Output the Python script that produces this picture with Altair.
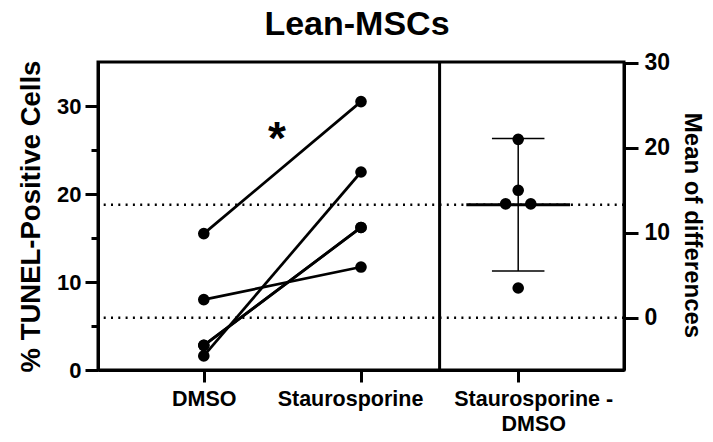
import json
import altair as alt
import pandas as pd

# ---- data ----
chart_title = "Lean-MSCs"
groups = ["DMSO", "Staurosporine"]
dmso = [15.5, 8.0, 2.8, 2.8, 1.6]
stauro = [30.5, 11.7, 16.2, 16.2, 22.5]
diffs = [21.0, 15.0, 13.4, 13.4, 3.5]
mean_diff = 13.3
ci_low, ci_high = 5.5, 21.1
x_tick_lines = [["DMSO"], ["Staurosporine"], ["Staurosporine -", "DMSO"]]
left_ticks = [0, 5, 10, 15, 20, 25, 30]
right_ticks = [0, 10, 20, 30]
left_title = "% TUNEL-Positive Cells"
right_title = "Mean of differences"
star = "*"

FONT = "Liberation Sans"
W, H = 526, 308

# ---- tables ----
paired = pd.DataFrame(
    [{"pair": i, "x": gi, "value": v}
     for i in range(len(dmso))
     for gi, v in enumerate([dmso[i], stauro[i]])]
)

# spread duplicated differences sideways (swarm)
diff_x = []
for i, d in enumerate(diffs):
    same = [j for j, e in enumerate(diffs) if e == d]
    k = same.index(i)
    n = len(same)
    diff_x.append(2 + 0.16 * (k - (n - 1) / 2))
diff_df = pd.DataFrame({"x": diff_x, "diff": diffs})

mean_df = pd.DataFrame({"x": [2 - 0.33], "x2": [2 + 0.33], "diff": [mean_diff]})
err_df = pd.DataFrame({"x": [2], "diff": [ci_low], "diff2": [ci_high]})
cap_df = pd.DataFrame({"x": [2 - 0.167] * 2, "x2": [2 + 0.167] * 2, "diff": [ci_low, ci_high]})
dotted_df = pd.DataFrame({"diff": [0.0, mean_diff]})
divider_df = pd.DataFrame({"x": [1.5]})
star_df = pd.DataFrame({"x": [0.465], "value": [24.5], "t": [star]})
title_df = pd.DataFrame({"t": [chart_title]})

# ---- scales / axes ----
xs = alt.Scale(domain=[-0.673, 2.673], nice=False, zero=False)
x_axis = alt.Axis(
    values=[0, 1, 2],
    labelExpr=json.dumps(x_tick_lines) + "[datum.value]",
    labelOffset={"condition": [{"test": "datum.value === 1", "value": -11},
                               {"test": "datum.value === 2", "value": 15}],
                 "value": 0},
    title=None, grid=False,
    tickSize=12, tickWidth=3, tickColor="black",
    domainWidth=3, domainColor="black",
    labelFont=FONT, labelFontSize=21.5, labelFontWeight="bold", labelColor="black",
    labelPadding=6, labelLineHeight=25, labelBaseline="top",
)


def X(field="x"):
    return alt.X(f"{field}:Q", scale=xs, axis=x_axis)


ys_left = alt.Scale(domain=[0, 35], nice=False, zero=False)
left_axis = alt.Axis(
    orient="left", values=left_ticks,
    labelExpr="datum.value % 10 === 0 ? datum.label : ''",
    tickSize={"condition": {"test": "datum.value % 10 === 0", "value": 13}, "value": 7},
    tickWidth=3, tickColor="black", domainWidth=3, domainColor="black",
    labelFont=FONT, labelFontSize=22, labelFontWeight="bold", labelColor="black",
    labelPadding=4, grid=False,
    title=left_title, titleFont=FONT, titleFontSize=27.5, titleFontWeight="bold",
    titleColor="black", titlePadding=11,
)
ys_right = alt.Scale(domain=[-6.15, 30.1], nice=False, zero=False)
right_axis = alt.Axis(
    orient="right", values=right_ticks,
    tickSize=14, tickWidth=3, tickColor="black", domainWidth=3, domainColor="black",
    labelFont=FONT, labelFontSize=23, labelFontWeight="bold", labelColor="black",
    labelPadding=6, grid=False,
    title=right_title, titleFont=FONT, titleFontSize=24, titleFontWeight="bold",
    titleColor="black", titlePadding=10, titleY=163,
)

YL = alt.Y("value:Q", scale=ys_left, axis=left_axis)
YR = alt.Y("diff:Q", scale=ys_right, axis=right_axis)

# ---- left panel ----
lines = alt.Chart(paired).mark_line(color="black", strokeWidth=2.7).encode(
    x=X(), y=YL, detail="pair:N"
)
pts = alt.Chart(paired).mark_circle(size=135, color="black", opacity=1).encode(x=X(), y=YL)
divider = alt.Chart(divider_df).mark_rule(color="black", strokeWidth=3).encode(x=X())
stars = alt.Chart(star_df).mark_text(
    font=FONT, fontSize=46, fontWeight="bold", color="black", baseline="alphabetic"
).encode(x=X(), y=YL, text="t:N")
heading = alt.Chart(title_df).mark_text(
    font=FONT, fontSize=34, fontWeight="bold", color="black",
    baseline="alphabetic", align="center",
).encode(text="t:N", x=alt.value(W / 2 - 4), y=alt.value(-27))
left = alt.layer(divider, lines, pts, stars, heading)

# ---- right panel ----
dotted = alt.Chart(dotted_df).mark_rule(
    color="black", strokeWidth=2.5, strokeDash=[2, 5.3]
).encode(y=YR)
mean_line = alt.Chart(mean_df).mark_rule(color="black", strokeWidth=3).encode(
    x=X(), x2="x2:Q", y=YR
)
err = alt.Chart(err_df).mark_rule(color="black", strokeWidth=1.5).encode(
    x=X(), y=YR, y2="diff2:Q"
)
caps = alt.Chart(cap_df).mark_rule(color="black", strokeWidth=1.5).encode(
    x=X(), x2="x2:Q", y=YR
)
dpts = alt.Chart(diff_df).mark_circle(size=135, color="black", opacity=1).encode(x=X(), y=YR)
right = alt.layer(dotted, err, caps, mean_line, dpts)

chart = (
    alt.layer(left, right)
    .resolve_scale(y="independent")
    .properties(
        width=W, height=H,
        autosize=alt.AutoSizeParams(type="none"),
        padding={"left": 90, "top": 54, "right": 81, "bottom": 64},
    )
    .configure(font=FONT, background="white")
    .configure_view(stroke="black", strokeWidth=3)
)

chart.save("out.html", embed_options={"renderer": "svg", "actions": False})
